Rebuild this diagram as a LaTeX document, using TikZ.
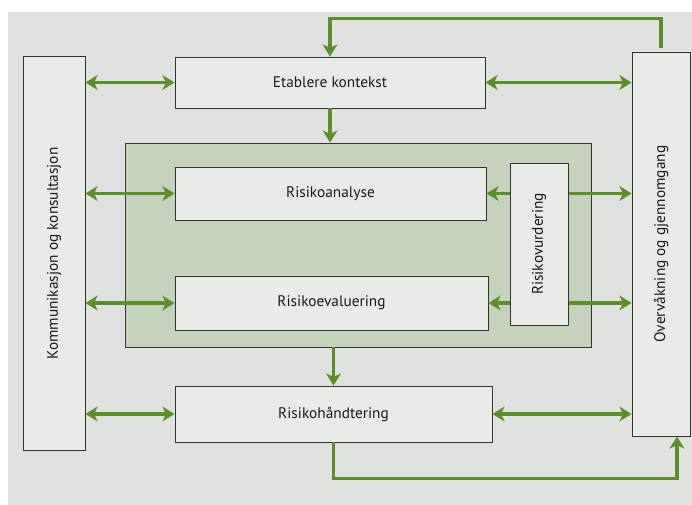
\documentclass[tikz,border=0pt]{standalone}
\usepackage{fontspec}
\setmainfont{PT Sans}
\usepackage{xcolor}
\usepackage{tikz}
\usetikzlibrary{arrows.meta, positioning, calc}
\definecolor{RiskPage}{RGB}{223, 226, 222}
\definecolor{RiskBox}{RGB}{233, 235, 231}
\definecolor{RiskGroup}{RGB}{198, 211, 188}
\definecolor{RiskGreen}{RGB}{92, 142, 42}
\definecolor{RiskLine}{RGB}{50, 52, 50}

\tikzset{
  riskbox/.style={draw=RiskLine, line width=0.7pt, fill=RiskBox, inner sep=0pt,
    font=\fontsize{11.5}{13}\selectfont\color{black!90}},
  flow/.style={draw=RiskGreen, line width=2.3pt,
    -{Stealth[length=9pt, width=11pt, inset=2.5pt]}},
  twoway/.style={flow, {Stealth[length=9pt, width=11pt, inset=2.5pt]}-{Stealth[length=9pt, width=11pt, inset=2.5pt]}}
}

\begin{document}
\begin{tikzpicture}[x=0.75pt, y=-0.75pt]
  \path[use as bounding box] (0,0) rectangle (692,505);
  \fill[white] (0,0) rectangle (692,505);
  \fill[RiskPage] (8,12) rectangle (692,505);

  % side columns
  \node[riskbox, rotate=90, minimum width=295pt, minimum height=46.5pt] (kom) at (54,253.5)
    {Kommunikasjon og konsultasjon};
  \node[riskbox, rotate=90, minimum width=288pt, minimum height=43.5pt] (overv) at (661,244)
    {Overvåkning og gjennomgang};

  % risk assessment group
  \node[draw=RiskLine, line width=0.7pt, fill=RiskGroup, minimum width=350pt, minimum height=153pt] (group) at (358.5,245) {};

  % process steps
  \node[riskbox, minimum width=232.5pt, minimum height=38.25pt] (etab) at (330,82.5) {Etablere kontekst};
  \node[riskbox, minimum width=233.25pt, minimum height=39.75pt] (analyse) at (330.5,193.5) {Risikoanalyse};
  \node[riskbox, minimum width=234.75pt, minimum height=40.5pt] (evaluering) at (331.5,303) {Risikoevaluering};
  \node[riskbox, minimum width=237.75pt, minimum height=42pt] (handtering) at (333.5,414) {Risikohåndtering};

  % left links
  \foreach \step in {etab, analyse, evaluering, handtering}
    \draw[twoway] (kom.south |- \step.west) -- (\step.west);

  % right links
  \draw[twoway] (etab.east) -- (overv.north |- etab.east);
  \draw[twoway] (analyse.east) -- (overv.north |- analyse.east);
  \draw[twoway] (evaluering.east) -- (overv.north |- evaluering.east);
  \draw[twoway] (handtering.east) -- (overv.north |- handtering.east);

  % main flow
  \draw[flow] (etab.south) -- (etab.south |- group.north);
  \draw[flow] (handtering.north |- group.south) -- (handtering.north);
  \draw[flow] (overv.east) ++(0,-4) -- ++(0,-29) -| (etab.north);
  \draw[flow] (handtering.south) -- ++(0,36) -| ([xshift=12pt]overv.west);

  \node[riskbox, rotate=90, minimum width=121.5pt, minimum height=43.5pt] (vurd) at (539,244)
    {Risikovurdering};
\end{tikzpicture}
\end{document}
